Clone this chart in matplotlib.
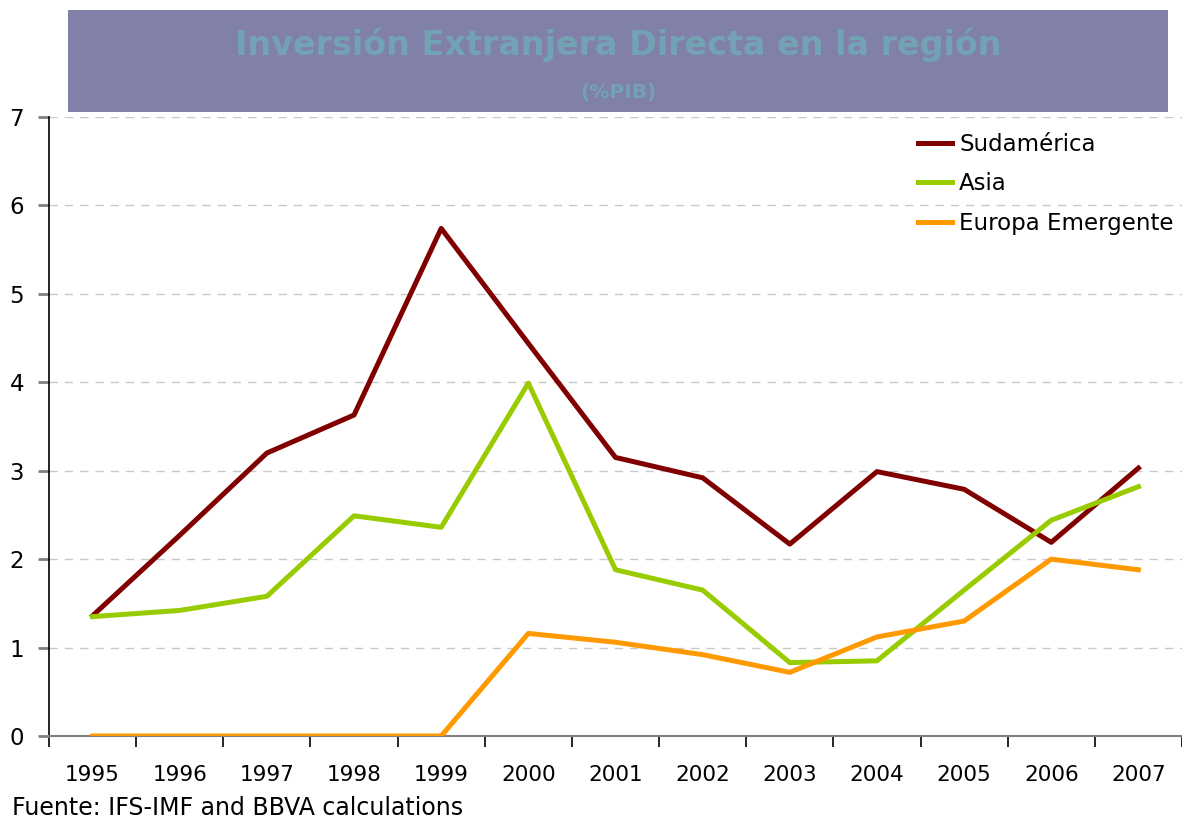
import numpy as np
import matplotlib
matplotlib.use('Agg')
import matplotlib.pyplot as plt
from matplotlib.patches import Rectangle

# data
years = ['1995', '1996', '1997', '1998', '1999', '2000', '2001',
         '2002', '2003', '2004', '2005', '2006', '2007']
sudamerica = [1.36, 2.27, 3.20, 3.63, 5.74, 4.44, 3.15, 2.92, 2.17, 2.99, 2.79, 2.19, 3.03]
asia = [1.35, 1.42, 1.58, 2.49, 2.36, 3.99, 1.88, 1.65, 0.83, 0.85, 1.65, 2.44, 2.82]
europa = [0.0, 0.0, 0.0, 0.0, 0.0, 1.16, 1.06, 0.92, 0.72, 1.12, 1.30, 2.00, 1.88]

plt.rcParams['font.family'] = 'DejaVu Sans'

fig = plt.figure(figsize=(11.82, 8.22), dpi=100)
ax = fig.add_axes([49/1182, 86/822, 1133/1182, 619/822])

x = np.arange(len(years))
ax.plot(x, sudamerica, color='#800000', lw=3.6, label='Sudamérica', zorder=3)
ax.plot(x, asia, color='#99CC00', lw=3.6, label='Asia', zorder=3)
ax.plot(x, europa, color='#FF9900', lw=3.6, label='Europa Emergente', zorder=4)

ax.set_xlim(-0.5, len(years) - 0.5)
ax.set_ylim(0, 7)
ax.set_yticks(range(0, 8))
ax.set_xticks(x)
ax.set_xticklabels(years)
ax.set_xticks(np.arange(-0.5, len(years), 1.0), minor=True)
ax.tick_params(axis='x', which='major', length=0, pad=21, labelsize=15.5)
ax.tick_params(axis='x', which='minor', length=8, width=1.2, color='black')
ax.tick_params(axis='y', length=8, width=2, color='#808080', pad=10, labelsize=16.5)

for v in range(1, 8):
    ax.axhline(v, color='#C8C8C8', lw=1, ls=(0, (6, 5)), zorder=1)

for s in ['top', 'right']:
    ax.spines[s].set_visible(False)
ax.spines['left'].set_color('black')
ax.spines['left'].set_linewidth(1.2)
ax.spines['bottom'].set_color('#808080')
ax.spines['bottom'].set_linewidth(1.5)

ax.legend(loc='upper left', bbox_to_anchor=(918/1182, 1 - 133/822),
          bbox_transform=fig.transFigure, frameon=False, fontsize=16.5,
          handlelength=1.5, handletextpad=0.3, labelspacing=0.72,
          borderpad=0, borderaxespad=0)

# title banner
fig.patches.append(Rectangle((68/1182, 710/822), 1100/1182, 102/822,
                             transform=fig.transFigure, facecolor='#8080A8',
                             edgecolor='none', zorder=0))
fig.text(0.523, 0.945, 'Inversión Extranjera Directa en la región', ha='center', va='center',
         fontsize=24, fontweight='bold', color='#72A2B4')
fig.text(0.523, 0.888, '(%PIB)', ha='center', va='center',
         fontsize=14.5, fontweight='bold', color='#72A2B4')

fig.text(12/1182, 1 - 808/822, 'Fuente: IFS-IMF and BBVA calculations', ha='left', va='center',
         fontsize=17)

fig.savefig('out.png', dpi=100)
